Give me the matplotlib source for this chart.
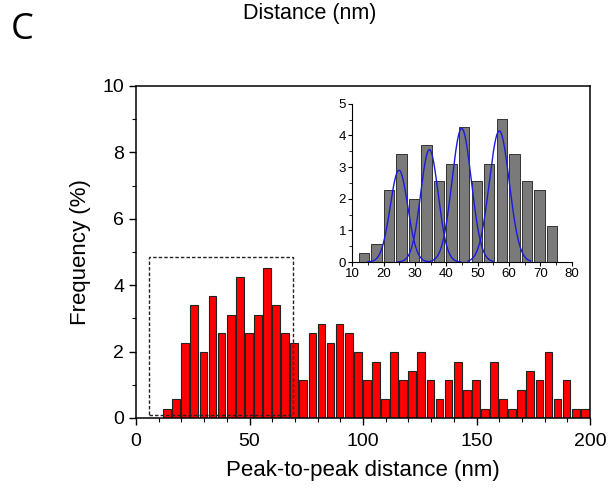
import numpy as np
import matplotlib
matplotlib.use("Agg")
from matplotlib import pyplot as plt
from matplotlib.patches import Rectangle
from matplotlib.ticker import MultipleLocator

plt.rcParams['font.family'] = ['Liberation Sans', 'DejaVu Sans']

# histogram of peak-to-peak distances, bin width 4 nm
bin_start = 13.7
bin_width = 4.0
freq = [0.28, 0.57, 2.27, 3.40, 1.98, 3.68, 2.55, 3.11, 4.25, 2.55, 3.11, 4.53,
        3.40, 2.55, 2.27, 1.13, 2.55, 2.83, 2.27, 2.83, 2.55, 1.98, 1.13, 1.70,
        0.57, 1.98, 1.13, 1.42, 1.98, 1.13, 0.57, 1.13, 1.70, 0.85, 1.13, 0.28,
        1.70, 0.57, 0.28, 0.85, 1.42, 1.13, 1.98, 0.57, 1.13, 0.28, 0.28]
n_inset = 16  # first bins repeated in the inset

# gaussian fits in the inset
peak_centers = [24.9, 34.6, 44.9, 56.9]
peak_amps = [2.9, 3.55, 4.22, 4.14]
peak_sigmas = [2.8, 2.8, 3.1, 3.2]

centers = bin_start + bin_width * np.arange(len(freq))

fig = plt.figure(figsize=(6.08, 4.95), dpi=100)
ax = fig.add_axes([0.2237, 0.1556, 0.7467, 0.6707])
ax.bar(centers, freq, width=3.4, color='#ff0000', edgecolor='#222222', linewidth=0.8)
ax.set_xlim(0, 200)
ax.set_ylim(0, 10)
ax.xaxis.set_major_locator(MultipleLocator(50))
ax.xaxis.set_minor_locator(MultipleLocator(10))
ax.yaxis.set_major_locator(MultipleLocator(2))
ax.yaxis.set_minor_locator(MultipleLocator(1))
ax.tick_params(which='major', length=5, width=1, labelsize=14, direction='out')
ax.tick_params(axis='x', which='major', pad=6)
ax.tick_params(which='minor', length=3, width=0.8, direction='out')
for s in ax.spines.values():
    s.set_linewidth(1.1)
ax.set_xlabel('Peak-to-peak distance (nm)', fontsize=16, labelpad=7)
ax.set_ylabel('Frequency (%)', fontsize=16, labelpad=8)

# dashed box marking the zoomed region
ax.add_patch(Rectangle((5.7, 0.09), 63.6, 4.77, fill=False, edgecolor='#222222',
                       linestyle=(0, (2.5, 1.5)), linewidth=1.0, zorder=5))

# inset
ins = fig.add_axes([0.5794, 0.4707, 0.3609, 0.3198])
ins.bar(centers[:n_inset], freq[:n_inset], width=3.3, color='#7a7a7a',
        edgecolor='#333333', linewidth=0.7)
for c, a, s in zip(peak_centers, peak_amps, peak_sigmas):
    xs = np.linspace(c - 10, c + 10, 200)
    ins.plot(xs, a * np.exp(-(xs - c) ** 2 / (2 * s ** 2)), color='#1a1add', linewidth=1.0)
ins.set_xlim(10, 80)
ins.set_ylim(0, 5)
ins.xaxis.set_major_locator(MultipleLocator(10))
ins.xaxis.set_minor_locator(MultipleLocator(5))
ins.yaxis.set_major_locator(MultipleLocator(1))
ins.yaxis.set_minor_locator(MultipleLocator(0.5))
ins.tick_params(which='major', length=3, width=0.8, labelsize=9.5, pad=1.5)
ins.tick_params(which='minor', length=2, width=0.6)
ins.spines['top'].set_visible(False)
ins.spines['right'].set_visible(False)
ins.patch.set_alpha(0)

fig.text(0.037, 0.94, 'C', fontsize=26, family=['Open Sans', 'DejaVu Sans'], ha='center', va='center')
fig.text(0.51, 0.972, 'Distance (nm)', fontsize=15.5, ha='center', va='center')

fig.savefig('out.png', dpi=100)
